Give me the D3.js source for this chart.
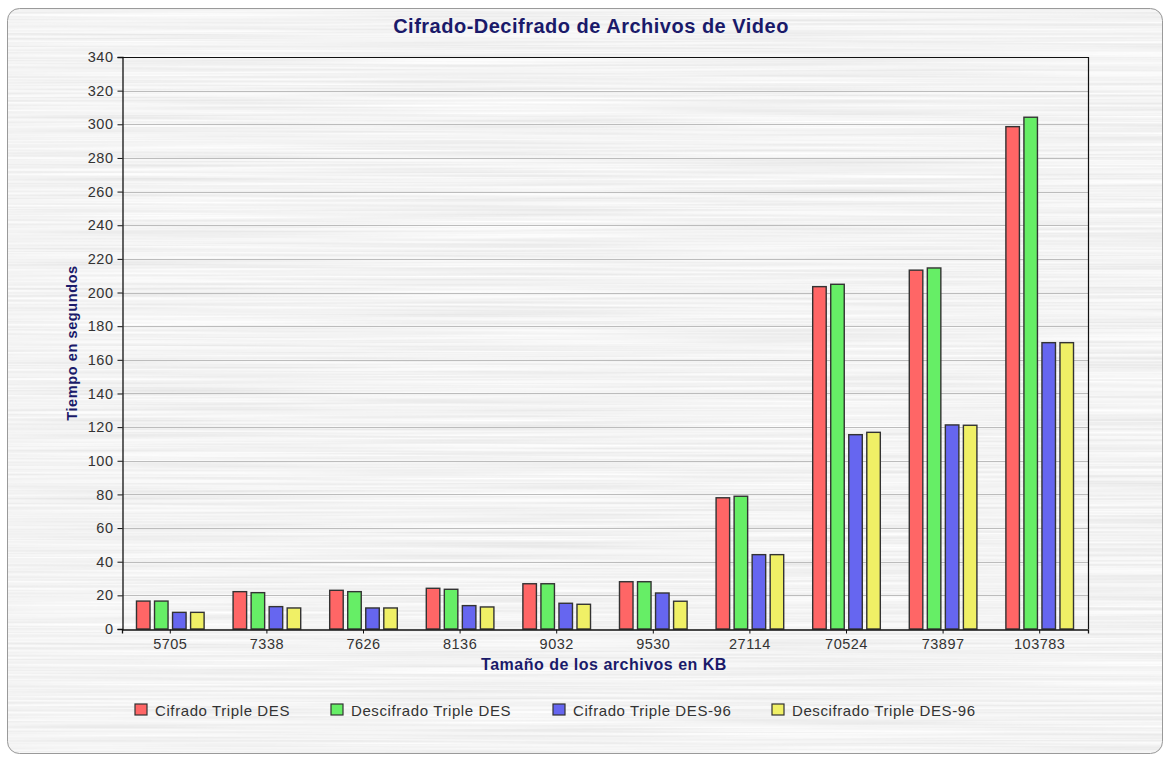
<!DOCTYPE html>
<html>
<head>
<meta charset="utf-8">
<script src="https://cdn.jsdelivr.net/npm/d3@7"></script>
<style>
  body { margin: 0; background: #fff; }
  svg { display: block; font-family: "Liberation Sans", Arial, sans-serif; }
</style>
</head>
<body>
<script>
var width = 1165, height = 759;

// tamaños de archivo (KB)
var sizes = ["5705", "7338", "7626", "8136", "9032", "9530", "27114", "70524", "73897", "103783"];
var seriesNames = ["Cifrado Triple DES", "Descifrado Triple DES", "Cifrado Triple DES-96", "Descifrado Triple DES-96"];
var seriesColors = ["#ff6666", "#66ee66", "#6666f0", "#f0f066"];

var cifradoDES      = [16.6, 22.2, 23.0, 24.2, 26.9, 28.1, 78.0, 203.5, 213.3, 298.6];
var descifradoDES   = [16.6, 21.6, 22.2, 23.6, 26.9, 28.1, 78.9, 204.9, 214.6, 304.2];
var cifradoDES96    = [9.9, 13.3, 12.5, 13.9, 15.3, 21.4, 44.2, 115.5, 121.3, 170.2];
var descifradoDES96 = [9.9, 12.5, 12.5, 13.1, 14.7, 16.5, 44.2, 116.9, 121.1, 170.2];

var yTicks = d3.range(0, 341, 20);

var seriesValues = [cifradoDES, descifradoDES, cifradoDES96, descifradoDES96];

var margin = { left: 122, top: 57, right: 1088, bottom: 629 };

var svg = d3.select("body").append("svg")
    .attr("width", width)
    .attr("height", height);

var defs = svg.append("defs");

// textura metal cepillado
var filter = defs.append("filter")
    .attr("id", "brushed")
    .attr("filterUnits", "userSpaceOnUse")
    .attr("x", 0).attr("y", 0).attr("width", width).attr("height", height);
filter.append("feTurbulence")
    .attr("type", "fractalNoise")
    .attr("baseFrequency", "0.003 0.42")
    .attr("numOctaves", 2)
    .attr("seed", 3)
    .attr("result", "noise");
filter.append("feColorMatrix")
    .attr("in", "noise")
    .attr("type", "matrix")
    .attr("values", "0.28 0 0 0 0.76  0.28 0 0 0 0.76  0.28 0 0 0 0.76  0 0 0 0 1");

defs.append("clipPath").attr("id", "panel-clip")
    .append("rect")
    .attr("x", 7).attr("y", 8)
    .attr("width", 1156).attr("height", 746)
    .attr("rx", 12).attr("ry", 12);

svg.append("rect")
    .attr("x", 0).attr("y", 0)
    .attr("width", width).attr("height", height)
    .attr("clip-path", "url(#panel-clip)")
    .attr("filter", "url(#brushed)");

svg.append("rect")
    .attr("x", 7.5).attr("y", 8.5)
    .attr("width", 1155).attr("height", 745)
    .attr("rx", 12).attr("ry", 12)
    .attr("fill", "none")
    .attr("stroke", "#9a9a9a")
    .attr("stroke-width", 1);

// escalas
var x0 = d3.scaleBand()
    .domain(sizes)
    .range([margin.left, margin.right]);

var x1 = d3.scaleBand()
    .domain(d3.range(seriesNames.length))
    .range([x0.bandwidth() * 0.15, x0.bandwidth() * 0.85])
    .paddingInner(0.25);

var y = d3.scaleLinear()
    .domain([0, 340])
    .range([margin.bottom, margin.top]);

// rejilla
svg.append("g")
    .selectAll("line")
    .data(yTicks.slice(1, -1))
    .enter()
    .append("line")
    .attr("x1", margin.left).attr("x2", margin.right)
    .attr("y1", function(d){ return Math.round(y(d)) + 0.5; })
    .attr("y2", function(d){ return Math.round(y(d)) + 0.5; })
    .attr("stroke", "#bcbcbc")
    .attr("stroke-width", 1);

// barras
var groups = svg.append("g")
    .selectAll("g")
    .data(sizes)
    .enter()
    .append("g")
    .attr("transform", function(d){ return "translate(" + x0(d) + ",0)"; });

groups.selectAll("rect")
    .data(function(d, i){
        return seriesValues.map(function(vals, s){ return { s: s, v: vals[i] }; });
    })
    .enter()
    .append("rect")
    .attr("x", function(d){ return x1(d.s); })
    .attr("width", x1.bandwidth())
    .attr("y", function(d){ return y(d.v); })
    .attr("height", function(d){ return y(0) - y(d.v); })
    .attr("fill", function(d){ return seriesColors[d.s]; })
    .attr("stroke", "#333")
    .attr("stroke-width", 1.4);

// marco del área
svg.append("path")
    .attr("d", "M" + margin.left + "," + (margin.top + 0.5) + "H" + (margin.right + 0.5) + "V" + margin.bottom)
    .attr("fill", "none")
    .attr("stroke", "#111")
    .attr("stroke-width", 1.2);

// ejes
var yAxis = svg.append("g")
    .attr("transform", "translate(" + (margin.left + 0.5) + ",0)")
    .call(d3.axisLeft(y).tickValues(yTicks).tickSize(5).tickPadding(4));

var xAxis = svg.append("g")
    .attr("transform", "translate(0," + (margin.bottom + 0.5) + ")")
    .call(d3.axisBottom(x0).tickSize(4).tickPadding(5));

[yAxis, xAxis].forEach(function(ax){
    ax.select(".domain").attr("stroke", "#111").attr("stroke-width", 1.3);
    ax.selectAll(".tick line").attr("stroke", "#111");
    ax.selectAll("text")
        .attr("fill", "#333")
        .style("font-size", "14.5px")
        .style("letter-spacing", "0.5px")
        .style("font-family", "'Liberation Sans', Arial, sans-serif");
});

// títulos
svg.append("text")
    .attr("x", 591).attr("y", 33)
    .attr("text-anchor", "middle")
    .attr("fill", "#1a1a6a")
    .style("font-size", "20px")
    .style("letter-spacing", "0.5px")
    .style("font-weight", "bold")
    .text("Cifrado-Decifrado de Archivos de Video");

svg.append("text")
    .attr("x", 604).attr("y", 670)
    .attr("text-anchor", "middle")
    .attr("fill", "#1a1a6a")
    .style("font-size", "16px")
    .style("letter-spacing", "0.5px")
    .style("font-weight", "bold")
    .text("Tamaño de los archivos en KB");

svg.append("text")
    .attr("transform", "translate(77," + ((margin.top + margin.bottom) / 2) + ") rotate(-90)")
    .attr("text-anchor", "middle")
    .attr("fill", "#1a1a6a")
    .style("font-size", "14.5px")
    .style("letter-spacing", "0.6px")
    .style("font-weight", "bold")
    .text("Tiempo en segundos");

// leyenda
var legendX = [135, 331, 553, 772];
var legend = svg.append("g")
    .selectAll("g")
    .data(seriesNames)
    .enter()
    .append("g")
    .attr("transform", function(d, i){ return "translate(" + legendX[i] + ",704)"; });

legend.append("rect")
    .attr("width", 12).attr("height", 11)
    .attr("fill", function(d, i){ return seriesColors[i]; })
    .attr("stroke", "#333")
    .attr("stroke-width", 1.2);

legend.append("text")
    .attr("x", 20).attr("y", 11.5)
    .attr("fill", "#333")
    .style("font-size", "15px")
    .style("letter-spacing", "0.6px")
    .text(function(d){ return d; });
</script>
</body>
</html>
